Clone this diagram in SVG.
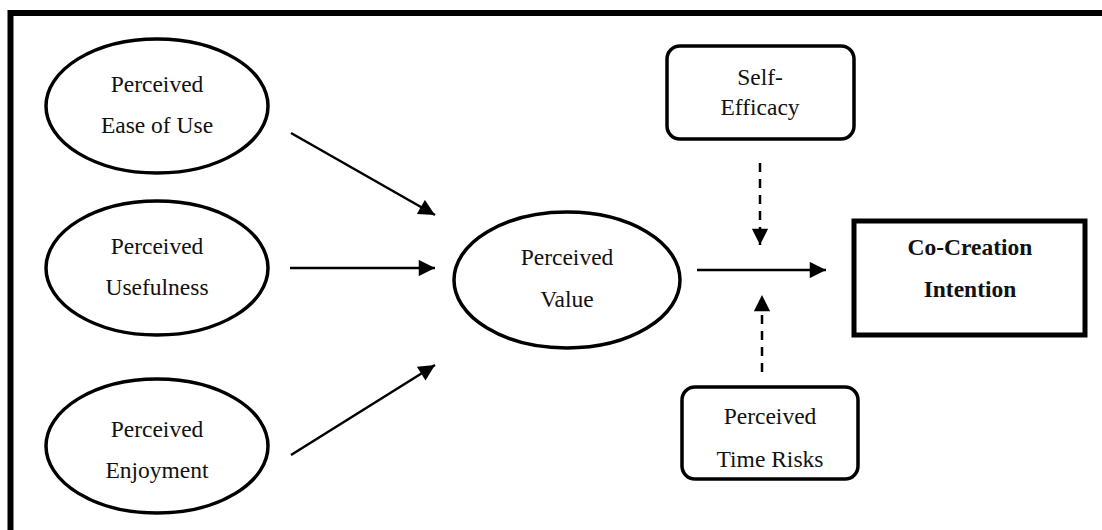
<svg xmlns="http://www.w3.org/2000/svg" width="1102" height="530" viewBox="0 0 1102 530">
  <style>
    .ell { fill: #fff; stroke: #000; stroke-width: 3.5; }
    .box { fill: #fff; stroke: #000; stroke-width: 3.5; }
    .lbl { font-family: "Liberation Serif", "Times New Roman", serif; font-size: 23.5px; fill: #111; text-anchor: middle; }
    .bold { font-weight: bold; }
    .link { stroke: #000; stroke-width: 2.5; fill: none; }
    .dash { stroke: #000; stroke-width: 2.5; fill: none; stroke-dasharray: 9 7; }
  </style>
  <defs>
    <marker id="head" viewBox="0 0 10 10" refX="10" refY="5" markerWidth="7.5" markerHeight="6.5" markerUnits="strokeWidth" orient="auto">
      <path d="M0,0 L10,5 L0,10 Z" fill="#000"/>
    </marker>
  </defs>

  <rect width="1102" height="530" fill="#fff"/>

  <!-- frame: top and left edges -->
  <path d="M10.5,530 V13 H1102" fill="none" stroke="#000" stroke-width="6"/>

  <g id="node-ease">
    <ellipse class="ell" cx="157" cy="106" rx="111" ry="67"/>
    <text class="lbl" x="157" y="92">Perceived</text>
    <text class="lbl" x="157" y="133">Ease of Use</text>
  </g>

  <g id="node-usefulness">
    <ellipse class="ell" cx="157" cy="268" rx="111" ry="67"/>
    <text class="lbl" x="157" y="254">Perceived</text>
    <text class="lbl" x="157" y="295">Usefulness</text>
  </g>

  <g id="node-enjoyment">
    <ellipse class="ell" cx="157" cy="446" rx="111" ry="67"/>
    <text class="lbl" x="157" y="437">Perceived</text>
    <text class="lbl" x="157" y="478">Enjoyment</text>
  </g>

  <g id="node-value">
    <ellipse class="ell" cx="567" cy="280" rx="113" ry="68"/>
    <text class="lbl" x="567" y="265">Perceived</text>
    <text class="lbl" x="567" y="307">Value</text>
  </g>

  <g id="node-self-efficacy">
    <rect class="box" x="667" y="46" width="187" height="93" rx="13"/>
    <text class="lbl" x="760" y="85">Self-</text>
    <text class="lbl" x="760" y="115">Efficacy</text>
  </g>

  <g id="node-time-risks">
    <rect class="box" x="682" y="387" width="176" height="92" rx="13"/>
    <text class="lbl" x="770" y="424">Perceived</text>
    <text class="lbl" x="770" y="467">Time Risks</text>
  </g>

  <g id="node-intention">
    <rect x="854" y="221" width="231" height="114" fill="#fff" stroke="#000" stroke-width="5"/>
    <text class="lbl bold" x="970" y="255">Co-Creation</text>
    <text class="lbl bold" x="970" y="297">Intention</text>
  </g>

  <g id="connectors">
    <line class="link" x1="291" y1="133" x2="435" y2="215" marker-end="url(#head)"/>
    <line class="link" x1="290" y1="268" x2="435" y2="268" marker-end="url(#head)"/>
    <line class="link" x1="291" y1="455" x2="435" y2="365" marker-end="url(#head)"/>
    <line class="link" x1="697" y1="270" x2="826" y2="270" marker-end="url(#head)"/>
    <line class="dash" x1="760" y1="163" x2="760" y2="245" marker-end="url(#head)"/>
    <line class="dash" x1="762" y1="372" x2="762" y2="295" marker-end="url(#head)"/>
  </g>
</svg>
